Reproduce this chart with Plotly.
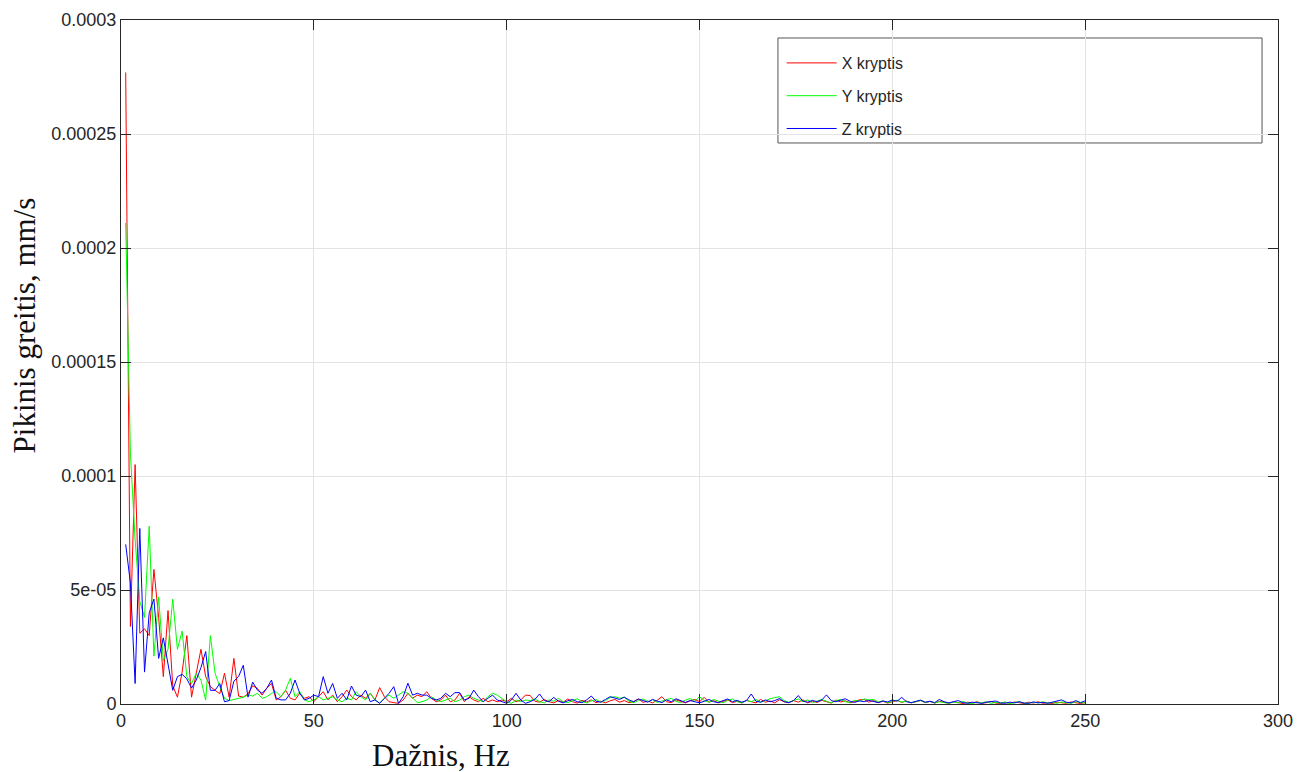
import plotly.graph_objects as go

# Frequency grid: 205 bins up to 250 Hz (step ~1.22 Hz)
N_BINS = 205
F_MAX = 250.0
freq = [F_MAX * k / N_BINS for k in range(1, N_BINS + 1)]

# Peak velocity values, in units of 1e-6 mm/s
x_um = [
    277, 34, 105, 31, 33, 30, 59, 38, 12, 41,
    8, 3, 14, 30, 3, 14, 24, 12, 7.6, 6,
    4.5, 13.5, 3, 20, 3.5, 3, 4.5, 8, 6.9, 3.9,
    7, 9, 1.8, 3.2, 6, 2.5, 1.8, 4.7, 2.5, 3.2,
    1, 3.2, 5.4, 1.8, 3.9, 1, 3.2, 6.1, 3.2, 1.8,
    3.9, 2.5, 4.7, 1.8, 7.2, 3.2, 1, 0.6, 0.3, 1.75,
    4.7, 2.5, 3.9, 3.2, 5.4, 2.5, 1, 1.75, 3.9, 1,
    1.75, 4.7, 1, 3.2, 1.75, 1, 2.5, 1, 1.75, 1,
    1.75, 1, 2.5, 1, 1.75, 3.9, 3.7, 1.2, 0.8, 2.0,
    1.0, 0.5, 1.5, 0.8, 2.2, 1.0, 0.4, 1.6, 0.9, 1.8,
    0.6, 1.2, 0.5, 1.4, 2.0, 0.8, 1.5, 0.6, 1.0, 2.2,
    0.7, 1.3, 0.5, 1.6, 3.2, 1.0, 0.6, 1.8, 1.1, 0.5,
    1.4, 2.0, 1.0, 2.9, 0.8, 1.5, 0.5, 1.0, 1.8, 0.6,
    1.2, 0.4, 1.6, 1.0, 0.5, 2.0, 0.8, 1.3, 0.5, 1.9,
    1.0, 0.6, 1.5, 0.8, 1.8, 0.5, 1.2, 0.7, 1.6, 1.0,
    0.4, 1.7, 0.9, 1.4, 0.5, 1.1, 1.8, 2.0, 0.8, 1.5,
    0.6, 1.2, 0.4, 1.0, 1.6, 0.7, 1.3, 0.5, 1.0, 1.5,
    0.6, 1.1, 0.4, 1.2, 0.8, 0.3, 1.0, 0.5, 0.2, 0.8,
    0.4, 1.0, 0.3, 0.6, 1.1, 0.4, 0.2, 0.7, 0.3, 0.9,
    0.5, 0.2, 0.8, 0.4, 1.0, 0.3, 0.6, 0.2, 0.8, 0.4,
    0.3, 0.9, 0.5, 0.2, 0.6,
]

y_um = [
    211, 110, 72, 45, 38, 78, 21, 47, 19, 24,
    46, 24, 32, 12, 9, 13.5, 10.5, 1.7, 30, 13.5,
    7.6, 2.5, 1.5, 2, 2.5, 3, 4, 3.5, 4.7, 2.5,
    3.2, 4.7, 5.4, 3.2, 6.1, 11.3, 3.2, 5.4, 1.8, 1,
    1.8, 3.2, 1.8, 2.5, 3.2, 1.8, 1, 2.5, 1.8, 5.4,
    3.2, 1.8, 4.7, 1.8, 0.3, 2.5, 3.9, 2.5, 3.9, 5.4,
    4.7, 2.5, 0.6, 1, 1.75, 3.2, 1.75, 1, 1.75, 2.5,
    1, 1.75, 3.2, 3.9, 2.5, 1.75, 1, 3.2, 4.7, 3.9,
    2.5, 1, 0.3, 1.75, 1, 1.75, 1.5, 2.2, 1.0, 0.5,
    1.8, 1.2, 2.5, 1.0, 0.6, 1.6, 2.3, 1.0, 0.5, 1.4,
    2.0, 0.8, 1.5, 2.8, 3.2, 2.5, 3.0, 1.2, 0.6, 1.5,
    2.2, 1.0, 1.8, 0.7, 1.3, 2.0, 2.5, 1.1, 0.6, 1.7,
    2.4, 1.2, 3.2, 1.5, 0.8, 2.0, 1.3, 0.5, 1.6, 2.2,
    1.0, 0.6, 1.5, 1.0, 2.0, 0.8, 1.4, 2.3, 2.8, 3.2,
    1.5, 0.7, 1.6, 2.2, 1.0, 1.8, 0.6, 1.4, 2.0, 1.2,
    0.5, 1.5, 2.0, 1.0, 0.7, 1.6, 1.2, 2.2, 1.8, 2.0,
    0.9, 1.4, 0.6, 1.2, 1.7, 0.8, 1.3, 0.5, 1.1, 1.6,
    0.7, 1.2, 0.5, 1.0, 0.6, 0.3, 0.9, 0.5, 1.1, 0.4,
    0.2, 0.8, 0.5, 1.0, 0.3, 0.7, 0.4, 0.9, 0.2, 0.6,
    1.0, 0.4, 0.3, 0.8, 0.5, 1.0, 0.4, 0.7, 0.3, 0.9,
    0.5, 0.3, 1.0, 0.6, 0.4,
]

z_um = [
    70, 53, 9, 77, 14, 40, 46, 20, 29, 17,
    6, 12, 13, 11, 7, 10.5, 16, 23, 6, 6,
    9, 1, 1.5, 10, 12, 17, 3, 9.6, 6.1, 4.7,
    6.9, 10.5, 2.5, 1.8, 1.8, 4.7, 10.5, 4.7, 1.8, 2.5,
    3.9, 3.2, 12, 4.7, 9, 2.5, 4.7, 1.8, 7.9, 3.9,
    3.2, 6.1, 1, 1.8, 0.3, 2.5, 4.7, 7.6, 0.3, 3.2,
    9.1, 3.9, 4.7, 3.9, 3.9, 2.5, 1.75, 2.5, 4.7, 3.2,
    5, 5, 1.75, 2.5, 6.1, 3.2, 1, 2.5, 3.9, 1.75,
    1, 0.3, 1.75, 4.7, 1.75, 0.3, 1.0, 2.0, 4.4, 1.5,
    1.0, 2.9, 1.2, 0.5, 1.4, 2.0, 1.0, 0.6, 1.8, 3.5,
    1.2, 0.8, 2.0, 3.2, 2.6, 2.0, 3.0, 1.8, 1.0, 2.2,
    1.5, 0.8, 2.0, 1.2, 0.6, 1.8, 1.0, 2.3, 1.4, 0.7,
    1.5, 1.0, 0.5, 1.2, 2.0, 1.0, 0.6, 1.5, 2.2, 1.0,
    1.6, 0.8, 1.5, 4.4, 1.2, 0.8, 1.8, 1.0, 1.5, 2.4,
    1.0, 0.6, 1.5, 3.7, 1.2, 0.8, 1.6, 1.0, 1.8, 4.0,
    1.5, 1.0, 1.5, 2.3, 1.2, 0.7, 1.4, 1.0, 1.6, 1.2,
    0.6, 1.3, 0.9, 1.8, 1.2, 2.9, 1.0, 0.6, 1.2, 1.7,
    0.8, 1.2, 0.6, 2.0, 1.0, 0.5, 1.0, 1.5, 0.6, 0.3,
    0.8, 0.5, 0.3, 0.8, 1.0, 1.3, 0.5, 0.3, 0.8, 0.5,
    1.0, 0.4, 0.3, 0.9, 0.5, 0.7, 0.3, 0.9, 1.2, 1.8,
    0.8, 0.5, 1.5, 0.6, 1.4,
]

UNIT = 1e-6
series = [
    ("X kryptis", x_um, "#ff0000"),
    ("Y kryptis", y_um, "#00ff00"),
    ("Z kryptis", z_um, "#0000ff"),
]

x_ticks = [0, 50, 100, 150, 200, 250, 300]
y_tickvals = [0, 5e-05, 0.0001, 0.00015, 0.0002, 0.00025, 0.0003]
y_ticktext = ["0", "5e-05", "0.0001", "0.00015", "0.0002", "0.00025", "0.0003"]

fig = go.Figure()
for i, (name, vals, col) in enumerate(series):
    fig.add_trace(go.Scatter(
        x=freq, y=[v * UNIT for v in vals], mode="lines", name=name,
        line=dict(color=col, width=1), legendgroup=f"g{i}",
    ))

axis_col = "#262626"
tick_font = dict(family="Liberation Sans, Arial, sans-serif", size=18, color=axis_col)
common = dict(
    showgrid=True, gridcolor="#e3e3e3", gridwidth=1,
    showline=True, linecolor=axis_col, linewidth=1, mirror="ticks",
    ticks="inside", ticklen=10, tickcolor=axis_col, tickwidth=1,
    zeroline=False, tickfont=tick_font, automargin=False,
)

fig.update_layout(
    width=1312, height=772,
    margin=dict(l=113, r=42, t=12, b=76),
    paper_bgcolor="white", plot_bgcolor="white",
    xaxis=dict(range=[0, 300], tickvals=x_ticks, **common),
    yaxis=dict(range=[0, 0.0003], tickvals=y_tickvals, ticktext=y_ticktext, **common),
    showlegend=True,
    legend=dict(
        x=0.571, y=0.962, xanchor="left", yanchor="top",
        bgcolor="rgba(0,0,0,0)", borderwidth=0,
        font=dict(family="Liberation Sans, Arial, sans-serif", size=16, color=axis_col),
        tracegroupgap=9, itemwidth=50,
    ),
    shapes=[dict(
        type="rect", xref="paper", yref="paper",
        x0=0.5678, x1=0.9862, y0=0.8202, y1=0.9737,
        line=dict(color="#555555", width=1), fillcolor="white", layer="below",
    )],
    annotations=[
        dict(text="Dažnis, Hz", xref="paper", yref="paper", x=0.2766, y=-0.0746,
             xanchor="center", yanchor="middle", showarrow=False,
             font=dict(family="Liberation Serif, Times New Roman, serif", size=31, color="#111111")),
        dict(text="Pikinis greitis, mm/s", xref="paper", yref="paper", x=-0.0835, y=0.554,
             xanchor="center", yanchor="middle", textangle=-90, showarrow=False,
             font=dict(family="Liberation Serif, Times New Roman, serif", size=31, color="#111111")),
    ],
)

fig.write_html("out.html")
